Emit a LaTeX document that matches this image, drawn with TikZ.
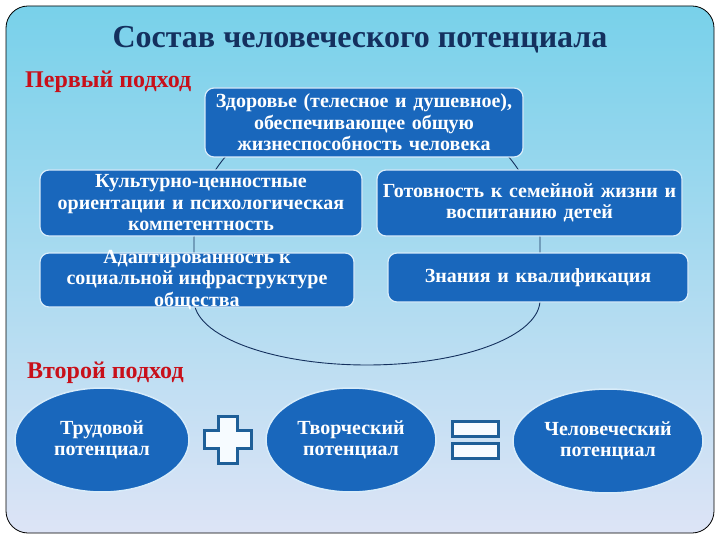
\documentclass[tikz,border=0pt]{standalone}
\usepackage{fontspec}
\setmainfont{Liberation Serif}
\usetikzlibrary{shapes.geometric}
\definecolor{SPBlue}{HTML}{1967BC}
\definecolor{SPEdge}{HTML}{D8ECFA}
\definecolor{SPNavy}{HTML}{14305E}
\definecolor{SPRed}{HTML}{C8101A}
\definecolor{SPTop}{HTML}{78D1EA}
\definecolor{SPMid}{HTML}{A8CCEC}
\definecolor{SPBottom}{HTML}{DDE4F6}
\definecolor{SPSign}{HTML}{1E5F98}
\definecolor{SPSignFill}{HTML}{F6FBFF}
\newcommand{\bodyfont}{\fontsize{20}{21.5}\selectfont\bfseries}

\begin{document}
\begin{tikzpicture}[x=1pt,y=-1pt,
  box/.style={draw=SPEdge,line width=1.2pt,fill=SPBlue,rounded corners=9pt,text=white,align=center,font=\bodyfont,inner sep=0pt},
  oval/.style={ellipse,draw=SPEdge,line width=1.5pt,fill=SPBlue,text=white,align=center,font=\bodyfont,inner sep=0pt,minimum height=104pt},
  sign/.style={draw=SPSign,line width=3pt,fill=SPSignFill},
  head/.style={text=SPRed,font=\fontsize{24}{26}\selectfont\bfseries,inner sep=0pt}]
\path[use as bounding box,fill=white] (0,0) rectangle (720,540);
\shade[top color=SPTop,middle color=SPMid,bottom color=SPBottom,rounded corners=22pt] (6,6) rectangle (714,533);
\draw[black,line width=0.8pt,rounded corners=22pt] (6,6) rectangle (714,533);
% title and first approach
\node[anchor=base,text=SPNavy,font=\fontsize{32}{35}\selectfont\bfseries,inner sep=0pt] (title) at (360,48) {Состав человеческого потенциала};
\node[head,anchor=base west] (first) at (25,88) {Первый подход};
\draw[SPNavy,line width=0.9pt] (194,240) arc[start angle=180,end angle=0,x radius=173pt,y radius=145pt] -- (540,300)
  arc[start angle=0,end angle=-180,x radius=173pt,y radius=65pt] -- cycle;
\node[box,minimum width=318pt,minimum height=69pt,text width=310pt] (health) at (364,122.5) {Здоровье (телесное и душевное),\\обеспечивающее общую\\жизнеспособность человека};
\node[box,minimum width=322pt,minimum height=66pt,text width=314pt] (culture) at (201,203) {Культурно-ценностные\\ориентации и психологическая\\компетентность};
\node[box,minimum width=305pt,minimum height=66pt,text width=297pt] (family) at (529.5,203) {Готовность к семейной жизни и\\воспитанию детей};
\node[box,minimum width=314pt,minimum height=54pt] (adapt) at (197,280) {};
\node[text=white,align=center,font=\bodyfont,inner sep=0pt] (adapttext) at (adapt.center) {Адаптированность к\\социальной инфраструктуре\\общества};
\node[box,minimum width=300pt,minimum height=49pt,text width=292pt] (skills) at (538,277.5) {Знания и квалификация};
% second approach
\node[head,anchor=base west] (second) at (27,378) {Второй подход};
\node[oval,minimum width=174pt] (labour) at (102,440) {Трудовой\\потенциал};
\node[oval,minimum width=170pt] (creative) at (351,440) {Творческий\\потенциал};
\node[oval,minimum width=190pt] (human) at (608,441) {Человеческий\\потенциал};
\draw[sign] (218,416) -- (237,416) -- (237,430) -- (251,430) -- (251,448) -- (237,448) -- (237,463)
  -- (218,463) -- (218,448) -- (204,448) -- (204,430) -- (218,430) -- cycle;
\draw[sign] (452,421) rectangle (498,436);
\draw[sign] (452,443) rectangle (498,458);
\end{tikzpicture}
\end{document}
